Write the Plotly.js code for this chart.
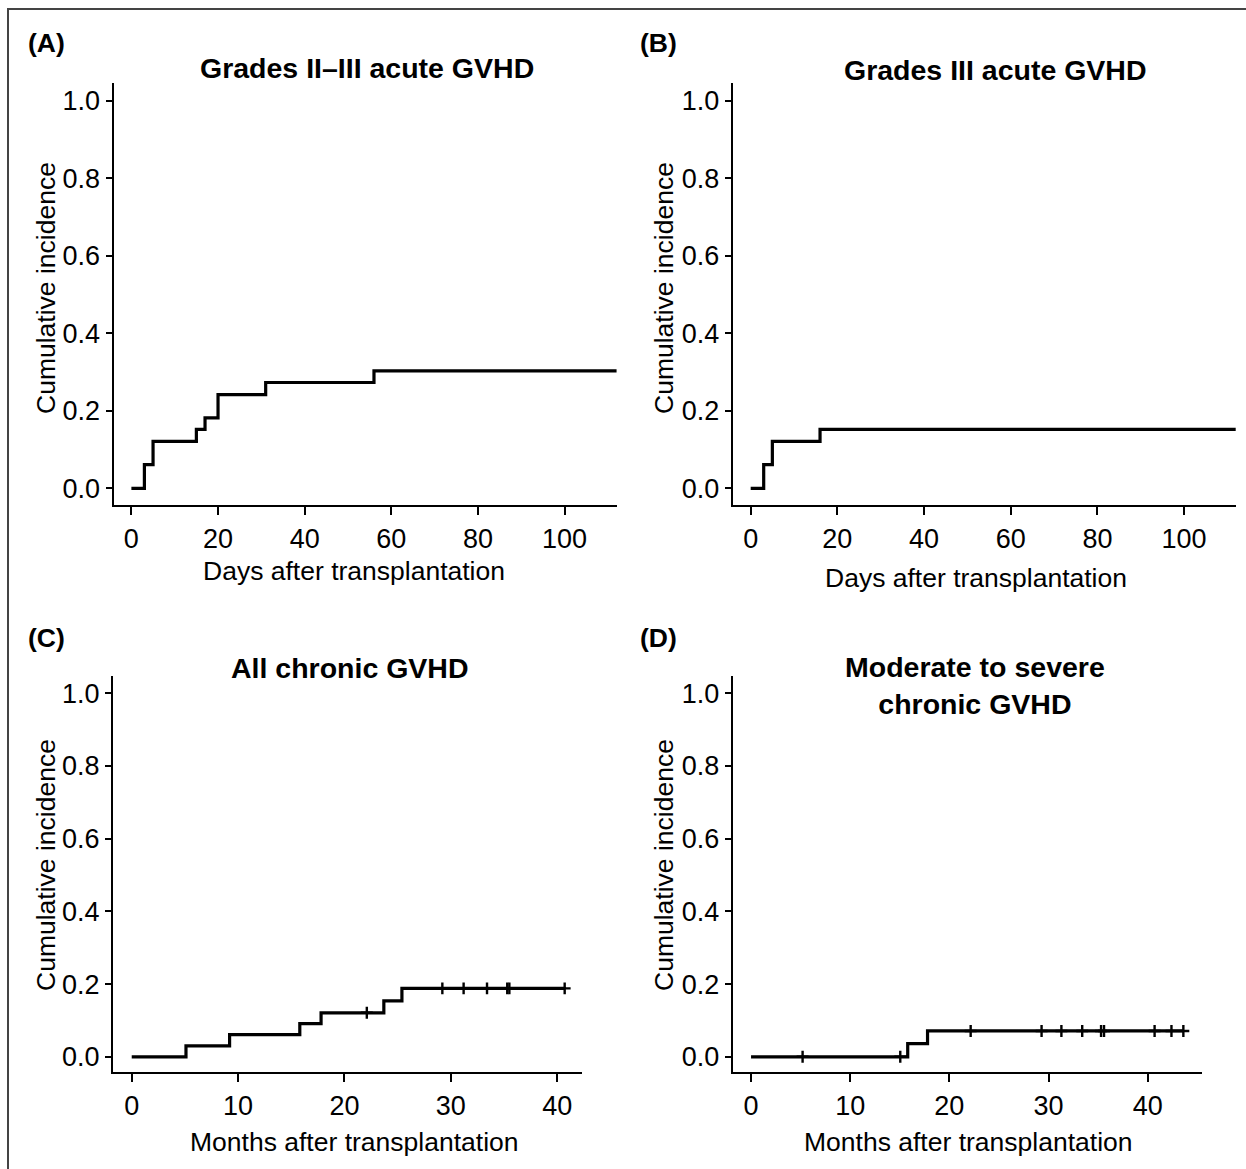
<!DOCTYPE html>
<html>
<head>
<meta charset="utf-8">
<script src="https://cdn.plot.ly/plotly-3.0.1.min.js"></script>
<style>html,body{margin:0;padding:0;background:#fff;}#chart{width:1246px;height:1169px;}</style>
</head>
<body>
<div id="chart"></div>
<script>
// ---- Data ----
const panelLabels = ["(A)", "(B)", "(C)", "(D)"];
const panelTitles = ["Grades II\u2013III acute GVHD", "Grades III acute GVHD", "All chronic GVHD", "Moderate to severe<br>chronic GVHD"];
const xTitles = ["Days after transplantation", "Days after transplantation", "Months after transplantation", "Months after transplantation"];
const yTitle = "Cumulative incidence";

const daysA = [0, 3, 5, 15, 17, 20, 31, 56, 112];
const cumA  = [0, 0.061, 0.121, 0.152, 0.182, 0.242, 0.273, 0.303, 0.303];

const daysB = [0, 3, 5, 16, 112];
const cumB  = [0, 0.061, 0.121, 0.152, 0.152];

const monthsC = [0, 5.1, 9.2, 15.8, 17.8, 23.7, 25.4, 40.7];
const cumC    = [0, 0.030, 0.061, 0.091, 0.121, 0.154, 0.188, 0.188];
const censorC = [22.1, 29.2, 31.2, 33.4, 35.3, 35.5, 40.7];

const monthsD = [0, 15.8, 17.8, 43.6];
const cumD    = [0, 0.036, 0.071, 0.071];
const censorD = [5.2, 15.05, 22.15, 29.3, 31.3, 33.4, 35.3, 35.6, 40.7, 42.4, 43.6];

const xTicksDays = [0, 20, 40, 60, 80, 100];
const xTicksMonths = [0, 10, 20, 30, 40];
const yTicks = [0, 0.2, 0.4, 0.6, 0.8, 1.0];
const yTickText = ["0.0", "0.2", "0.4", "0.6", "0.8", "1.0"];

// step-function lookup for censor mark heights
function stepAt(xs, ys, t) {
  let v = ys[0];
  for (let i = 0; i < xs.length; i++) { if (xs[i] <= t) v = ys[i]; }
  return v;
}

// ---- Layout geometry (pixels) ----
const W = 1246, H = 1169;
const px = x => x / W;
const py = y => 1 - y / H;
const FONT = '"Liberation Sans", Arial, Helvetica, sans-serif';

const boxes = [
  {x0: 113.5, x1: 617,    y0: 83.3, y1: 505,    xr: [-4.13, 112.1], yr: [-0.043, 1.045]},
  {x0: 732.7, x1: 1235.7, y0: 83.3, y1: 505,    xr: [-4.15, 111.9], yr: [-0.043, 1.045]},
  {x0: 113,   x1: 581.7,  y0: 676,  y1: 1071.7, xr: [-1.76, 42.3],  yr: [-0.041, 1.047]},
  {x0: 732.7, x1: 1201.7, y0: 676,  y1: 1071.7, xr: [-1.85, 45.45], yr: [-0.041, 1.047]}
];

const lineStyle = {color: '#000', width: 3.2, shape: 'hv'};
const censorMarker = {symbol: 'cross-thin', size: 8.5, color: '#000', line: {color: '#000', width: 2.4}};

const traces = [
  {x: daysA, y: cumA, xaxis: 'x', yaxis: 'y', mode: 'lines', line: lineStyle, hoverinfo: 'skip'},
  {x: daysB, y: cumB, xaxis: 'x2', yaxis: 'y2', mode: 'lines', line: lineStyle, hoverinfo: 'skip'},
  {x: monthsC, y: cumC, xaxis: 'x3', yaxis: 'y3', mode: 'lines', line: lineStyle, hoverinfo: 'skip'},
  {x: censorC, y: censorC.map(t => stepAt(monthsC, cumC, t)), xaxis: 'x3', yaxis: 'y3', mode: 'markers', marker: censorMarker, hoverinfo: 'skip'},
  {x: monthsD, y: cumD, xaxis: 'x4', yaxis: 'y4', mode: 'lines', line: lineStyle, hoverinfo: 'skip'},
  {x: censorD, y: censorD.map(t => stepAt(monthsD, cumD, t)), xaxis: 'x4', yaxis: 'y4', mode: 'markers', marker: censorMarker, hoverinfo: 'skip'}
];

const layout = {
  width: W, height: H,
  margin: {l: 0, r: 0, t: 0, b: 0},
  paper_bgcolor: '#fff', plot_bgcolor: '#fff',
  showlegend: false,
  font: {family: FONT, color: '#000', size: 26},
  annotations: [],
  shapes: [
    {type: 'rect', xref: 'paper', yref: 'paper', x0: px(8), x1: px(1260), y0: py(9), y1: py(1185),
     line: {color: '#444', width: 2}, fillcolor: 'rgba(0,0,0,0)'}
  ]
};

boxes.forEach((b, i) => {
  const s = i === 0 ? '' : String(i + 1);
  const isDays = i < 2;
  layout['xaxis' + s] = {
    domain: [px(b.x0), px(b.x1)], range: b.xr, anchor: 'y' + s,
    showline: true, linecolor: '#000', linewidth: 2, mirror: false,
    showgrid: false, zeroline: false,
    ticks: 'outside', ticklen: 8, tickwidth: 2, tickcolor: '#000',
    tickmode: 'array', tickvals: isDays ? xTicksDays : xTicksMonths,
    ticklabelstandoff: 1,
    tickfont: {family: FONT, size: 27, color: '#000'}
  };
  layout['yaxis' + s] = {
    domain: [py(b.y1), py(b.y0)], range: b.yr, anchor: 'x' + s,
    showline: true, linecolor: '#000', linewidth: 2, mirror: false,
    showgrid: false, zeroline: false,
    ticks: 'outside', ticklen: 6, tickwidth: 2, tickcolor: '#000',
    tickmode: 'array', tickvals: yTicks, ticktext: yTickText,
    ticklabelstandoff: 0,
    tickfont: {family: FONT, size: 27, color: '#000'}
  };
});

const labelPos = [[46, 43], [658, 43], [46, 638], [658, 638]];
const titlePos = [[367, 68], [995, 70], [350, 668], [975, 685]];
const xTitlePos = [[354, 571], [976, 578], [354, 1142], [968, 1142]];
const yTitlePos = [[46, 288], [664, 288], [46, 865], [664, 865]];

function ann(text, p, opts) {
  return Object.assign({text: text, xref: 'paper', yref: 'paper', x: px(p[0]), y: py(p[1]),
    xanchor: 'center', yanchor: 'middle', showarrow: false,
    font: {family: FONT, size: 26.5, color: '#000'}}, opts || {});
}

for (let i = 0; i < 4; i++) {
  layout.annotations.push(ann('<b>' + panelLabels[i] + '</b>', labelPos[i], {font: {family: FONT, size: 26.5, color: '#000'}}));
  layout.annotations.push(ann('<b>' + panelTitles[i] + '</b>', titlePos[i], {font: {family: FONT, size: 28.5, color: '#000'}}));
  layout.annotations.push(ann(xTitles[i], xTitlePos[i]));
  layout.annotations.push(ann(yTitle, yTitlePos[i], {textangle: -90}));
}

Plotly.newPlot('chart', traces, layout, {displayModeBar: false, staticPlot: true});
</script>
</body>
</html>
